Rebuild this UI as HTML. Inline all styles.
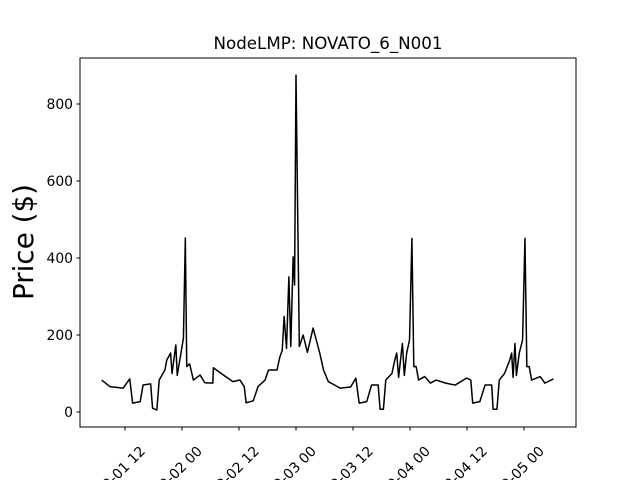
<!DOCTYPE html>
<html><head><meta charset="utf-8"><style>html,body{margin:0;background:#fff;overflow:hidden;width:640px;height:480px}svg{display:block;overflow:hidden;font-family:"DejaVu Sans","Liberation Sans",sans-serif}</style></head>
<body>
<svg id="chart" width="640" height="480" viewBox="0 0 640 480">
<rect width="640" height="480" fill="#fff"/>
<text x="328" y="49" font-size="16.7" text-anchor="middle">NodeLMP: NOVATO_6_N001</text>
<text transform="translate(33,242) rotate(-90)" font-size="27.8" text-anchor="middle">Price ($)</text>
<g id="plot"></g>
<rect x="80" y="58" width="496" height="369" fill="none" stroke="#000" stroke-width="1"/>
</svg>
<script>
const hours=[7.1,8.8,11.6,13,13.6,15.2,15.8,17.4,17.8,18.7,19.2,20.4,20.8,21.6,21.9,22.7,23,24.3,24.7,25,25.6,26.4,27.8,28.8,30.5,30.6,32.7,34.7,36.2,37.1,37.5,39,40,41.5,42.2,44,44.6,45.1,45.5,46,46.5,46.9,47.4,47.7,48,48.7,49.5,50.4,51.6,53,53.8,54.8,57.3,59.5,60.6,61.3,62.9,63.9,65.3,65.7,66.4,66.9,68.2,68.8,69.2,69.6,70.4,70.8,71.3,71.9,72.4,72.8,73.3,73.8,75.1,76.3,77.5,79.5,81.5,83.9,84.8,85.2,86.7,87.8,89.2,89.5,90.3,90.8,91.9,93,93.4,93.7,94.1,94.4,95,95.7,96.2,96.6,97.1,97.6,99.4,100.4,102.2];
const prices=[83,66,62,86,23,27,70,73,10,5,83,109,135,153,100,174,95,192,452,118,125,83,96,76,75,115,96,79,83,66,24,29,66,83,109,109,143,160,248,165,351,170,403,330,875,170,200,155,218,153,109,79,62,65,88,23,27,70,70,7,7,83,100,135,153,90,178,95,153,187,451,118,118,83,92,75,83,75,70,88,83,23,27,70,70,7,7,83,100,135,153,90,178,95,153,187,451,118,118,83,92,75,86];
const yTicks=[0,200,400,600,800];
const xTickHours=[12,24,36,48,60,72,84,96];
const xTickLabels=["2023-09-01 12","2023-09-02 00","2023-09-02 12","2023-09-03 00","2023-09-03 12","2023-09-04 00","2023-09-04 12","2023-09-05 00"];
const xs=h=>125+(h-12)*4.75, ys=v=>412-v*0.385;
const NS="http://www.w3.org/2000/svg", g=document.getElementById('plot');
function mk(t,a){const e=document.createElementNS(NS,t);for(const k in a)e.setAttribute(k,a[k]);g.appendChild(e);return e;}
yTicks.forEach(v=>{
 const l=mk('line',{x1:76.5,x2:80,y1:ys(v),y2:ys(v),stroke:'#000'});
 
 
 const t=mk('text',{x:73,y:ys(v)+5,'font-size':13.9,'text-anchor':'end'});t.textContent=v;
 
 
});
xTickHours.forEach((h,i)=>{
 const x=xs(h);
 const l=mk('line',{x1:x,x2:x,y1:427,y2:430.5,stroke:'#000'});
 
 
 const ax=x+21, ay=452;
 const t=mk('text',{x:ax,y:ay,'font-size':13.9,'text-anchor':'end',transform:`rotate(-45 ${ax} ${ay})`});t.textContent=xTickLabels[i];
 
 
});
const p=mk('polyline',{points:hours.map((h,i)=>xs(h)+','+ys(prices[i])).join(' '),fill:'none',stroke:'#000','stroke-width':1.5,'stroke-linejoin':'round'});


</script>
</body></html>
